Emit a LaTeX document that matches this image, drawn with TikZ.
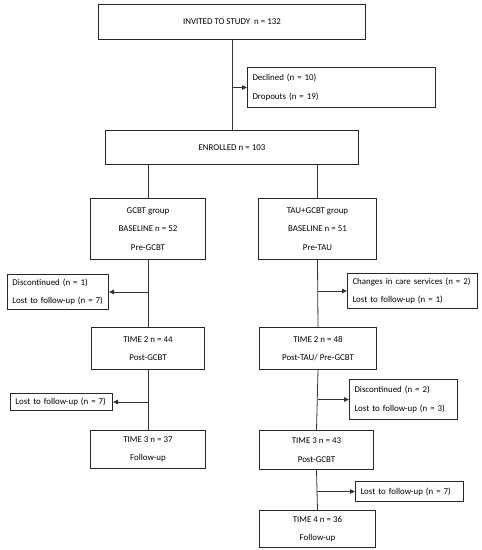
\documentclass[tikz,border=0pt]{standalone}
\usepackage{fontspec}
\setmainfont{Carlito}
\usetikzlibrary{arrows.meta}
\tikzset{
  box/.style={rectangle,draw=black!85,line width=1pt,anchor=north west,
    inner sep=0pt,align=center,font=\fontsize{8.9}{18.5}\selectfont},
  sidebox/.style={box,align=left,inner xsep=5pt},
  link/.style={line width=0.8pt,draw=black!80},
  flow/.style={link,-{Triangle[length=5pt,width=4.5pt]}},
}

\begin{document}
\begin{tikzpicture}[x=1pt,y=-1pt]
  \useasboundingbox (0,0) rectangle (482,550);

  % top of the chart
  \node[box,minimum width=267pt,minimum height=35pt] (invite) at (98,4) {INVITED TO STUDY~~n = 132};
  \node[sidebox,text width=178pt,minimum height=40pt] (decl) at (247,67) {Declined (n = 10)\\Dropouts (n = 19)};
  \node[box,minimum width=253pt,minimum height=34pt] (enrolled) at (105,130) {ENROLLED n = 103};

  % left arm
  \node[box,minimum width=115pt,minimum height=61pt] (gcbt) at (90,198) {GCBT group\\BASELINE n = 52\\Pre-GCBT};
  \node[sidebox,text width=91pt,minimum height=35pt] (disc1) at (7,274) {Discontinued (n = 1)\\Lost to follow-up (n = 7)};
  \node[box,minimum width=113pt,minimum height=42pt] (t2a) at (91,327) {TIME 2 n = 44\\Post-GCBT};
  \node[sidebox,text width=92pt,minimum height=17pt] (lost1) at (10,393) {Lost to follow-up (n = 7)};
  \node[box,minimum width=115pt,minimum height=38pt] (t3a) at (90,430) {TIME 3 n = 37\\Follow-up};

  % right arm
  \node[box,minimum width=118pt,minimum height=61pt] (tau) at (258,198) {TAU+GCBT group\\BASELINE n = 51\\Pre-TAU};
  \node[sidebox,text width=120pt,minimum height=35pt] (care) at (347,273) {Changes in care services (n = 2)\\Lost to follow-up (n = 1)};
  \node[box,minimum width=117pt,minimum height=42pt] (t2b) at (259,327) {TIME 2 n = 48\\Post-TAU/ Pre-GCBT};
  \node[sidebox,text width=98pt,minimum height=40pt] (disc2) at (349,379) {Discontinued (n = 2)\\Lost to follow-up (n = 3)};
  \node[box,minimum width=114pt,minimum height=39pt] (t3b) at (259,430) {TIME 3 n = 43\\Post-GCBT};
  \node[sidebox,text width=98pt,minimum height=20pt] (lost2) at (355,481) {Lost to follow-up (n = 7)};
  \node[box,minimum width=116pt,minimum height=37pt] (t4) at (259,510) {TIME 4 n = 36\\Follow-up};

  \draw[link] (invite.south) -- (enrolled.north);
  \draw[flow] (invite.south |- decl.west) -- (decl.west);
  \draw[link] (enrolled.south -| gcbt.north) -- (gcbt.north);
  \draw[link] (enrolled.south -| tau.north) -- (tau.north);

  \draw[link] (gcbt.south) -- (t2a.north);
  \draw[flow] (gcbt.south |- disc1.east) -- (disc1.east);
  \draw[link] (t2a.south) -- (t3a.north);
  \draw[flow] (t2a.south |- lost1.east) -- (lost1.east);

  \draw[link] (tau.south) -- (t2b.north);
  \draw[flow] (tau.south |- care.west) -- (care.west);
  \draw[link] (t2b.south) -- (t3b.north);
  \draw[flow] (t2b.south |- disc2.west) -- (disc2.west);
  \draw[link] (t3b.south) -- (t4.north);
  \draw[flow] (t3b.south |- lost2.west) -- (lost2.west);
\end{tikzpicture}
\end{document}
